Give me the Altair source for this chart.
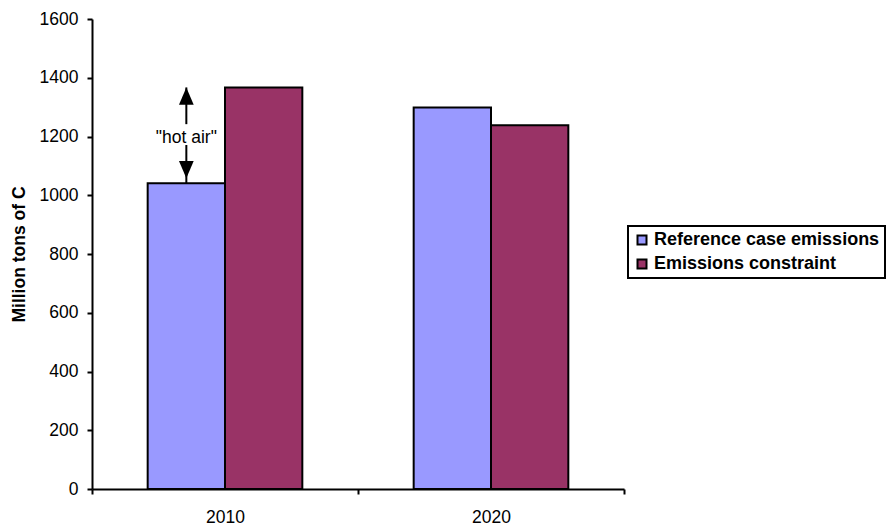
import altair as alt
import pandas as pd

# Carbon emissions, million tons of C
years = ["2010", "2020"]
series_names = ["Reference case emissions", "Emissions constraint"]
reference_case = [1041, 1299]
constraint = [1367, 1238]
series_colors = ["#9999FF", "#993366"]

FONT = "Liberation Sans"

rows = []
for i, yr in enumerate(years):
    rows.append({"year": yr, "series": series_names[0], "value": reference_case[i]})
    rows.append({"year": yr, "series": series_names[1], "value": constraint[i]})
bars_df = pd.DataFrame(rows)

# "hot air": the gap between the 2010 reference case and the 2010 constraint
lo, hi = reference_case[0], constraint[0]
mid = (lo + hi) / 2
note_df = pd.DataFrame([{
    "year": years[0], "series": series_names[0],
    "lo": lo, "hi": hi, "mid": mid,
    "up_from": mid + 38, "down_from": mid - 50,
    "label": '"hot air"',
}])

x_enc = alt.X(
    "year:N",
    sort=years,
    scale=alt.Scale(paddingInner=0, paddingOuter=0),
    axis=alt.Axis(
        title=None, labelAngle=0, labelFontSize=17.5, labelFont=FONT,
        labelColor="black", labelPadding=14, tickBand="extent",
        tickSize=5, tickColor="black", tickWidth=2,
        domainColor="black", domainWidth=2,
    ),
)
xoff_enc = alt.XOffset(
    "series:N", sort=series_names,
    scale=alt.Scale(paddingInner=0, paddingOuter=0.72),
)

y_scale = alt.Scale(domain=[0, 1600], nice=False)

bars = alt.Chart(bars_df).mark_bar(stroke="black", strokeWidth=2).encode(
    x=x_enc,
    xOffset=xoff_enc,
    y=alt.Y(
        "value:Q", scale=y_scale,
        axis=alt.Axis(
            title="Million tons of C", titleFont=FONT, titleFontSize=17.5,
            titleFontWeight="bold", titleColor="black",
            titleX=-73, titleY=235, titleAngle=270, titleBaseline="middle",
            titleAlign="center",
            values=list(range(0, 1601, 200)), format="d", grid=False,
            labelFontSize=17.5, labelFont=FONT, labelColor="black",
            labelPadding=9, tickSize=5, tickColor="black", tickWidth=2,
            domainColor="black", domainWidth=2,
        ),
    ),
    color=alt.Color(
        "series:N", sort=series_names,
        scale=alt.Scale(domain=series_names, range=series_colors),
        legend=alt.Legend(
            title=None, orient="none", legendX=536, legendY=207,
            symbolType="square", symbolSize=81, symbolStrokeColor="black",
            symbolStrokeWidth=2, symbolOpacity=1,
            labelFont=FONT, labelFontSize=18, labelFontWeight="bold",
            labelColor="black", labelOffset=3, rowPadding=6,
            padding=5, strokeColor="black",
            fillColor="white", labelLimit=400,
        ),
    ),
)

base_note = alt.Chart(note_df).encode(
    x=alt.X("year:N", sort=years),
    xOffset=alt.XOffset("series:N", sort=series_names),
)

up_shaft = base_note.mark_rule(color="black", strokeWidth=2).encode(
    y=alt.Y("up_from:Q", scale=y_scale), y2="hi:Q"
)
down_shaft = base_note.mark_rule(color="black", strokeWidth=2, yOffset=-5).encode(
    y=alt.Y("down_from:Q", scale=y_scale), y2="lo:Q"
)
up_head = base_note.mark_point(
    shape="M0,0L0.85,2L-0.85,2Z", filled=True, color="black", opacity=1,
    size=300, strokeWidth=0,
).encode(y=alt.Y("hi:Q", scale=y_scale))
down_head = base_note.mark_point(
    shape="M0,0L0.85,-2L-0.85,-2Z", filled=True, color="black", opacity=1,
    size=300, strokeWidth=0, yOffset=-5,
).encode(y=alt.Y("lo:Q", scale=y_scale))
note_text = base_note.mark_text(
    font=FONT, fontSize=17.5, color="black", baseline="middle", align="center",
    dy=3,
).encode(y=alt.Y("mid:Q", scale=y_scale), text="label:N")

chart = alt.layer(bars, up_shaft, down_shaft, up_head, down_head, note_text).properties(
    width=532, height=470,
    autosize=alt.AutoSizeParams(type="none"),
    padding={"left": 92, "top": 19, "right": 263, "bottom": 38},
    background="white",
).configure_view(stroke=None).configure_legend(strokeWidth=2)

chart.save("out.html", embed_options={"renderer": "svg", "actions": False})
